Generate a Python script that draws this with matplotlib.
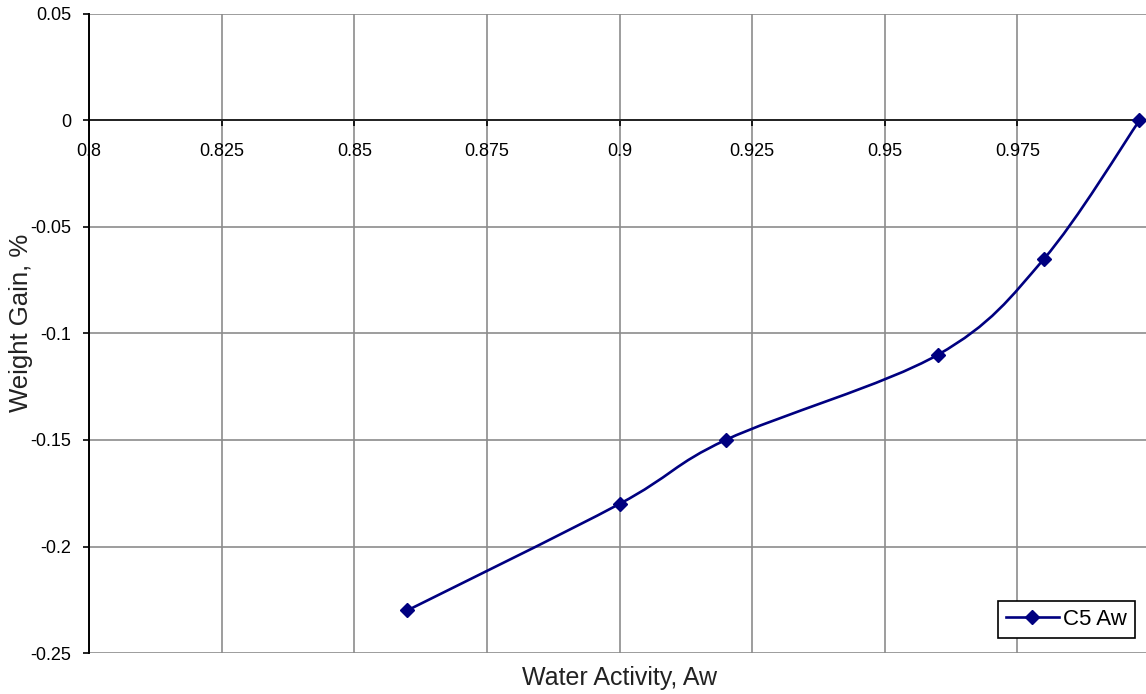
import numpy as np
import matplotlib
matplotlib.use("Agg")
import matplotlib.pyplot as plt
from matplotlib.path import Path
from matplotlib.patches import PathPatch
from matplotlib.lines import Line2D

plt.rcParams['font.family'] = ['Liberation Sans', 'DejaVu Sans']

# data
water_activity = [0.86, 0.90, 0.92, 0.96, 0.98, 0.998]
weight_gain = [-0.23, -0.18, -0.15, -0.11, -0.065, 0.0]
series_name = "C5 Aw"

x_ticks = [0.8, 0.825, 0.85, 0.875, 0.9, 0.925, 0.95, 0.975]
x_tick_labels = ["0.8", "0.825", "0.85", "0.875", "0.9", "0.925", "0.95", "0.975"]
y_ticks = [0.05, 0, -0.05, -0.1, -0.15, -0.2, -0.25]
y_tick_labels = ["0.05", "0", "-0.05", "-0.1", "-0.15", "-0.2", "-0.25"]

navy = "#000080"
W, H = 1146, 694

fig = plt.figure(figsize=(W / 100, H / 100), dpi=100)
ax = fig.add_axes([89 / W, 1 - 653 / H, (1150 - 89) / W, (653 - 14) / H])


def smooth_path(xs, ys):
    # Excel-style smoothed line as cubic Bezier segments (Catmull-Rom control points)
    pts = np.column_stack([xs, ys])
    n = len(pts)
    verts = [pts[0]]
    codes = [Path.MOVETO]
    for i in range(n - 1):
        p0 = pts[i - 1] if i > 0 else pts[i]
        p1 = pts[i]
        p2 = pts[i + 1]
        p3 = pts[i + 2] if i + 2 < n else pts[i + 1]
        c1 = p1 + (p2 - p0) / 6
        c2 = p2 - (p3 - p1) / 6
        verts += [c1, c2, p2]
        codes += [Path.CURVE4] * 3
    return Path(verts, codes)


# spine moves first: it resets the tick objects
ax.spines["top"].set_visible(False)
ax.spines["right"].set_visible(False)
ax.spines["bottom"].set_position(("data", 0))
ax.spines["bottom"].set_linewidth(1.4)
ax.spines["bottom"].set_color("#222222")
ax.spines["left"].set_linewidth(1.4)
ax.spines["left"].set_color("black")
ax.spines["bottom"].set_zorder(2)

curve = PathPatch(smooth_path(water_activity, weight_gain), facecolor="none",
                  edgecolor=navy, lw=1.9, transform=ax.transData, zorder=3)
ax.add_patch(curve)
ax.plot(water_activity, weight_gain, linestyle="none", marker="D", ms=7,
        color=navy, zorder=4)

ax.set_xlim(0.8, 1.0)
ax.set_ylim(-0.25, 0.05)

ax.set_xticks(x_ticks)
ax.set_xticklabels(x_tick_labels)
ax.set_yticks(y_ticks)
ax.set_yticklabels(y_tick_labels)

ax.grid(True, color="#8c8c8c", lw=1.2)
ax.set_axisbelow(True)

ax.tick_params(axis="x", direction="out", length=4, width=1.2, pad=12,
               colors="black", labelsize=13)
ax.tick_params(axis="y", direction="out", length=4, width=1.2, pad=9,
               colors="black", labelsize=13)

ax.set_xlabel("Water Activity, Aw", fontsize=18, color="#222222")
ax.xaxis.set_label_coords(0.5, -0.02)
ax.set_ylabel("Weight Gain, %", fontsize=18.5, color="#222222")
ax.yaxis.set_label_coords(-0.0525, 0.516)

handle = Line2D([], [], color=navy, lw=1.9, marker="D", ms=7)
leg = ax.legend([handle], [series_name], loc="upper right", fontsize=16,
                bbox_to_anchor=(1135 / W, 1 - 601 / H), bbox_transform=fig.transFigure,
                borderaxespad=0, fancybox=False, edgecolor="black", framealpha=1,
                handlelength=2.4, handletextpad=0.2, borderpad=0.35)
leg.get_frame().set_linewidth(1.2)

plt.savefig("out.png", dpi=100)
